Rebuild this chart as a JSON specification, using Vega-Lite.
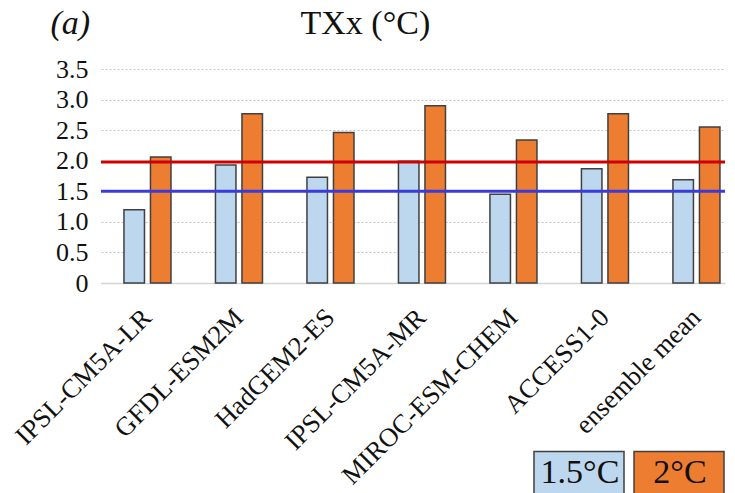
{
  "$schema": "https://vega.github.io/schema/vega-lite/v6.json",
  "autosize": "none",
  "width": 624,
  "height": 214,
  "padding": {"left": 101, "top": 69, "right": 10, "bottom": 210},
  "background": "white",
  "config": {
    "font": "Liberation Serif",
    "view": {"stroke": null}
  },
  "data": {
    "values": [
      {"model": "IPSL-CM5A-LR", "scenario": "1.5°C", "value": 1.20},
      {"model": "IPSL-CM5A-LR", "scenario": "2°C", "value": 2.06},
      {"model": "GFDL-ESM2M", "scenario": "1.5°C", "value": 1.93},
      {"model": "GFDL-ESM2M", "scenario": "2°C", "value": 2.77},
      {"model": "HadGEM2-ES", "scenario": "1.5°C", "value": 1.73},
      {"model": "HadGEM2-ES", "scenario": "2°C", "value": 2.46},
      {"model": "IPSL-CM5A-MR", "scenario": "1.5°C", "value": 1.99},
      {"model": "IPSL-CM5A-MR", "scenario": "2°C", "value": 2.90},
      {"model": "MIROC-ESM-CHEM", "scenario": "1.5°C", "value": 1.45},
      {"model": "MIROC-ESM-CHEM", "scenario": "2°C", "value": 2.34},
      {"model": "ACCESS1-0", "scenario": "1.5°C", "value": 1.87},
      {"model": "ACCESS1-0", "scenario": "2°C", "value": 2.77},
      {"model": "ensemble mean", "scenario": "1.5°C", "value": 1.69},
      {"model": "ensemble mean", "scenario": "2°C", "value": 2.55}
    ]
  },
  "resolve": {"scale": {"y": "shared"}, "axis": {"y": "independent"}},
  "layer": [
    {
      "mark": {"type": "bar", "stroke": "#404040", "strokeWidth": 1.5},
      "encoding": {
        "x": {
          "field": "model",
          "type": "nominal",
          "sort": null,
          "scale": {"paddingInner": 0.486, "paddingOuter": 0.153, "align": 0.82},
          "axis": {
            "title": null,
            "labelAngle": -45,
            "labelAlign": "right",
            "labelBaseline": "middle",
            "labelFontSize": 26.5,
            "labelColor": "#111111",
            "labelLimit": 500,
            "labelPadding": 30,
            "labelOffset": 0,
            "ticks": false,
            "domain": true,
            "domainColor": "#d4d4d4",
            "domainWidth": 1.5
          }
        },
        "xOffset": {
          "field": "scenario",
          "type": "nominal",
          "sort": ["1.5°C", "2°C"],
          "scale": {"paddingInner": 0.226, "paddingOuter": 0}
        },
        "y": {
          "field": "value",
          "type": "quantitative",
          "scale": {"domain": [0, 3.5], "nice": false},
          "axis": {
            "orient": "left",
            "title": "(a)",
            "titleAngle": 0,
            "titleX": -51,
            "titleY": -36,
            "titleAlign": "left",
            "titleBaseline": "alphabetic",
            "titleFontSize": 34,
            "titleFontStyle": "italic",
            "titleFontWeight": "normal",
            "titleColor": "#111111",
            "values": [0, 0.5, 1, 1.5, 2, 2.5, 3, 3.5],
            "labelExpr": "datum.value == 0 ? '0' : format(datum.value, '.1f')",
            "labelFontSize": 26,
            "labelColor": "#111111",
            "labelPadding": 13,
            "labelOverlap": false,
            "labelFlush": false,
            "ticks": false,
            "domain": false,
            "grid": true,
            "gridColor": "#c4c4c4",
            "gridDash": [2, 2],
            "gridWidth": 1
          }
        },
        "fill": {
          "field": "scenario",
          "type": "nominal",
          "sort": ["1.5°C", "2°C"],
          "scale": {"domain": ["1.5°C", "2°C"], "range": ["#bdd7ee", "#ed7d31"]},
          "legend": {
            "title": null,
            "orient": "none",
            "direction": "horizontal",
            "legendX": 432,
            "legendY": 358,
            "symbolType": "M-1,-0.49H1V0.49H-1Z",
            "symbolSize": 8100,
            "symbolStrokeColor": "#404040",
            "symbolStrokeWidth": 1.5,
            "symbolOpacity": 1,
            "labelFontSize": 34,
            "labelColor": "#111111",
            "labelAlign": "center",
            "labelOffset": -45,
            "columnPadding": 4,
            "padding": 0
          }
        }
      }
    },
    {
      "data": {"values": [{"level": 1.98, "name": "2°C threshold"}]},
      "mark": {"type": "rule", "color": "#d00000", "strokeWidth": 3},
      "encoding": {
        "y": {
          "field": "level",
          "type": "quantitative",
          "axis": {
            "orient": "right",
            "title": "TXx (°C)",
            "titleAngle": 0,
            "titleX": -425,
            "titleY": -36,
            "titleAlign": "left",
            "titleBaseline": "alphabetic",
            "titleFontSize": 34,
            "titleFontWeight": "normal",
            "titleColor": "#111111",
            "labels": false,
            "ticks": false,
            "domain": false,
            "grid": false
          }
        }
      }
    },
    {
      "data": {"values": [{"level": 1.5, "name": "1.5°C threshold"}]},
      "mark": {"type": "rule", "color": "#3b3bdc", "strokeWidth": 3},
      "encoding": {"y": {"field": "level", "type": "quantitative", "axis": null}}
    }
  ]
}
